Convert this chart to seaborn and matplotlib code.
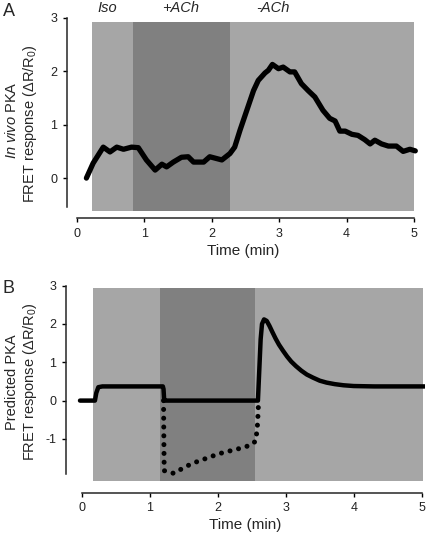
import numpy as np
import pandas as pd
import matplotlib
matplotlib.use("Agg")
import matplotlib.pyplot as plt
import seaborn as sns

# ---- data ----
# panel A : measured in vivo PKA response
time_a = [0.14, 0.24, 0.39, 0.49, 0.59, 0.69, 0.81, 0.91, 1.03, 1.16, 1.26, 1.33, 1.43,
          1.55, 1.65, 1.73, 1.88, 1.97, 2.15, 2.27, 2.34, 2.42, 2.52, 2.62, 2.69, 2.79,
          2.84, 2.90, 2.99, 3.06, 3.16, 3.23, 3.33, 3.43, 3.53, 3.65, 3.75, 3.83, 3.90,
          3.98, 4.08, 4.17, 4.27, 4.35, 4.42, 4.52, 4.62, 4.74, 4.84, 4.94, 5.02]
resp_a = [0.00, 0.28, 0.58, 0.49, 0.58, 0.54, 0.58, 0.57, 0.34, 0.15, 0.26, 0.21, 0.30,
          0.39, 0.40, 0.30, 0.30, 0.40, 0.34, 0.46, 0.58, 0.90, 1.27, 1.64, 1.83, 1.97,
          2.02, 2.13, 2.05, 2.08, 1.99, 1.99, 1.77, 1.64, 1.52, 1.27, 1.12, 1.07, 0.88,
          0.88, 0.82, 0.80, 0.72, 0.64, 0.71, 0.64, 0.60, 0.60, 0.50, 0.54, 0.51]

# panel B : predicted response (solid) and without ACh (dotted)
time_b = [-0.03, 0.19, 0.21, 0.24, 0.30, 0.60, 1.00, 1.19, 1.20, 1.21, 1.22, 1.60, 2.00,
          2.40, 2.59, 2.61, 2.63, 2.65, 2.68, 2.72, 2.76, 2.80, 2.85, 2.90, 2.96, 3.02,
          3.08, 3.15, 3.23, 3.31, 3.40, 3.50, 3.60, 3.72, 3.85, 4.00, 4.30, 4.70, 5.05]
resp_b = [0.00, 0.00, 0.20, 0.35, 0.37, 0.37, 0.37, 0.37, 0.30, 0.00, 0.00, 0.00, 0.00,
          0.00, 0.00, 0.80, 1.60, 2.00, 2.12, 2.08, 1.95, 1.80, 1.62, 1.46, 1.30, 1.15,
          1.02, 0.90, 0.78, 0.68, 0.60, 0.52, 0.47, 0.43, 0.40, 0.38, 0.37, 0.37, 0.37]
time_dot = [1.20, 1.205, 1.21, 1.35, 1.48, 1.60, 1.73, 1.86, 1.98, 2.11, 2.24, 2.36,
            2.49, 2.56, 2.585, 2.60]
resp_dot = [0.00, -1.00, -1.83, -1.90, -1.77, -1.66, -1.57, -1.49, -1.41, -1.34, -1.29,
            -1.23, -1.16, -1.05, -0.60, 0.00]

# treatment windows  (start, end) of light / dark shading
shade_a = (0.22, 0.83, 2.27, 5.00)
shade_b = (0.16, 1.15, 2.55, 5.02)
labels_a = ["Iso", "+ACh", "-ACh"]
label_x_a = [0.445, 1.54, 2.91]

sns.set_style("ticks")
plt.rcParams["font.family"] = ["Liberation Sans", "DejaVu Sans"]
plt.rcParams["mathtext.fontset"] = "custom"
plt.rcParams["mathtext.rm"] = "Liberation Sans"
plt.rcParams["mathtext.it"] = "Liberation Sans:italic"
plt.rcParams["axes.unicode_minus"] = False

light = "#a6a6a6"
dark = "#808080"

W, H = 427, 537
fig = plt.figure(figsize=(W / 100, H / 100), dpi=100)


def px_axes(left, right, top, bottom):
    return fig.add_axes([left / W, (H - bottom) / H, (right - left) / W, (bottom - top) / H])


def style_axes(ax, ybot, yticks):
    sns.despine(ax=ax)
    ax.spines["left"].set_bounds(ybot, 3)
    ax.spines["bottom"].set_bounds(0, 5)
    for s in ("left", "bottom"):
        ax.spines[s].set_linewidth(1.1)
    ax.set_xticks([0, 1, 2, 3, 4, 5])
    ax.set_yticks(yticks)
    ax.tick_params(axis="both", labelsize=9, length=3, width=1.0, color="black",
                   labelcolor="#222222", pad=4)
    ax.set_xlabel("Time (min)", fontsize=11, labelpad=3)
    ax.set_ylabel("")


def shade(ax, s, y0, y1):
    ax.fill_between([s[0], s[1]], y0, y1, color=light, lw=0, zorder=0)
    ax.fill_between([s[1], s[2]], y0, y1, color=dark, lw=0, zorder=0)
    ax.fill_between([s[2], s[3]], y0, y1, color=light, lw=0, zorder=0)


# ---- panel A ----
axA = px_axes(67, 420, 18, 218)
axA.set_xlim(-0.148, 5.09)
axA.set_ylim(-0.748, 3.0)
shade(axA, shade_a, -0.62, 2.93)
dfa = pd.DataFrame({"t": time_a, "r": resp_a})
sns.lineplot(data=dfa, x="t", y="r", ax=axA, color="black", lw=3.8,
             estimator=None, sort=False, solid_joinstyle="round", solid_capstyle="round")
style_axes(axA, -0.55, [0, 1, 2, 3])
for lab, x in zip(labels_a, label_x_a):
    axA.text(x, 3.19, lab, fontsize=10.5, style="italic", ha="center", va="center",
             clip_on=False)

# ---- panel B ----
axB = px_axes(66, 425, 285.7, 492.5)
axB.set_xlim(-0.236, 5.05)
axB.set_ylim(-2.40, 3.0)
shade(axB, shade_b, -2.11, 2.93)
dfd = pd.DataFrame({"t": time_dot, "r": resp_dot})
sns.lineplot(data=dfd, x="t", y="r", ax=axB, color="black", lw=3.6,
             estimator=None, sort=False, dashes=False)
axB.lines[-1].set_linestyle((0, (0.01, 1.75)))
axB.lines[-1].set_dash_capstyle("round")
dfb = pd.DataFrame({"t": time_b, "r": resp_b})
sns.lineplot(data=dfb, x="t", y="r", ax=axB, color="black", lw=3.2,
             estimator=None, sort=False, solid_joinstyle="round")
style_axes(axB, -1.91, [-1, 0, 1, 2, 3])

# ---- y labels and panel letters ----
fig.text(12 / W, 1 - 120 / H, r"$\it{In\ vivo}$ PKA", rotation=90, fontsize=10.5,
         ha="center", va="center")
fig.text(30 / W, 1 - 124 / H, r"FRET response ($\Delta$R/R$_0$)", rotation=90,
         fontsize=10.5, ha="center", va="center")
fig.text(12 / W, 1 - 382 / H, "Predicted PKA", rotation=90, fontsize=10.5,
         ha="center", va="center")
fig.text(30 / W, 1 - 382 / H, r"FRET response ($\Delta$R/R$_0$)", rotation=90,
         fontsize=10.5, ha="center", va="center")
fig.text(3 / W, 1 - 3 / H, "A", fontsize=13, ha="left", va="top")
fig.text(3 / W, 1 - 280 / H, "B", fontsize=13, ha="left", va="top")

fig.savefig("out.png", dpi=100)
